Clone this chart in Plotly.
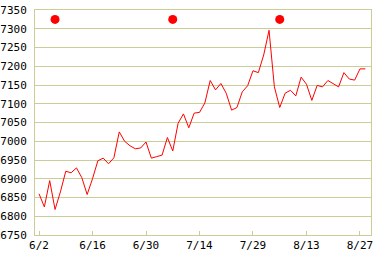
import plotly.graph_objects as go

# trading-day index values
values = [6860, 6825, 6895, 6818, 6865, 6920, 6916, 6929, 6903, 6858,
          6900, 6948, 6955, 6940, 6956, 7025, 7000, 6988, 6980, 6982,
          6998, 6955, 6959, 6963, 7010, 6974, 7048, 7073, 7036, 7075,
          7077, 7102, 7162, 7137, 7154, 7128, 7083, 7090, 7132, 7148,
          7188, 7183, 7230, 7296, 7145, 7090, 7128, 7136, 7121, 7171,
          7152, 7109, 7149, 7145, 7162, 7154, 7145, 7183, 7166, 7163,
          7193, 7193]
x_idx = list(range(len(values)))

tick_pos = [0, 10, 20, 30, 40, 50, 60]
tick_labels = ["6/2", "6/16", "6/30", "7/14", "7/29", "8/13", "8/27"]

event_idx = [3, 25, 45]
event_vals = [7325, 7325, 7325]

grid = "#cccc99"
font = dict(family="DejaVu Sans Mono", size=11, color="#000000")

fig = go.Figure()
fig.add_trace(go.Scatter(x=x_idx, y=values, mode="lines",
                         line=dict(color="#ff0000", width=1), hoverinfo="skip"))
fig.add_trace(go.Scatter(x=event_idx, y=event_vals, mode="markers",
                         marker=dict(color="#ff0000", size=9), hoverinfo="skip"))

fig.update_layout(
    width=382, height=258,
    margin=dict(l=35, r=11, t=10, b=23),
    paper_bgcolor="white", plot_bgcolor="white",
    showlegend=False,
    hovermode=False,
    xaxis=dict(range=[-0.75, 62.06], tickvals=tick_pos, ticktext=tick_labels,
               showgrid=False, zeroline=False, showline=True, linecolor=grid,
               linewidth=1, mirror=True, ticks="inside", ticklen=4,
               tickcolor=grid, tickfont=font, automargin=False),
    yaxis=dict(range=[6750, 7350], dtick=50, tick0=6750, showgrid=True,
               gridcolor=grid, gridwidth=1, zeroline=False, showline=True,
               linecolor=grid, linewidth=1, mirror=True, ticks="",
               ticklabelstandoff=5, tickfont=font, automargin=False),
)

fig.write_html("out.html",
               config={"displayModeBar": False, "staticPlot": True},
               post_script="document.body.style.margin='0';document.body.style.overflow='hidden';")
